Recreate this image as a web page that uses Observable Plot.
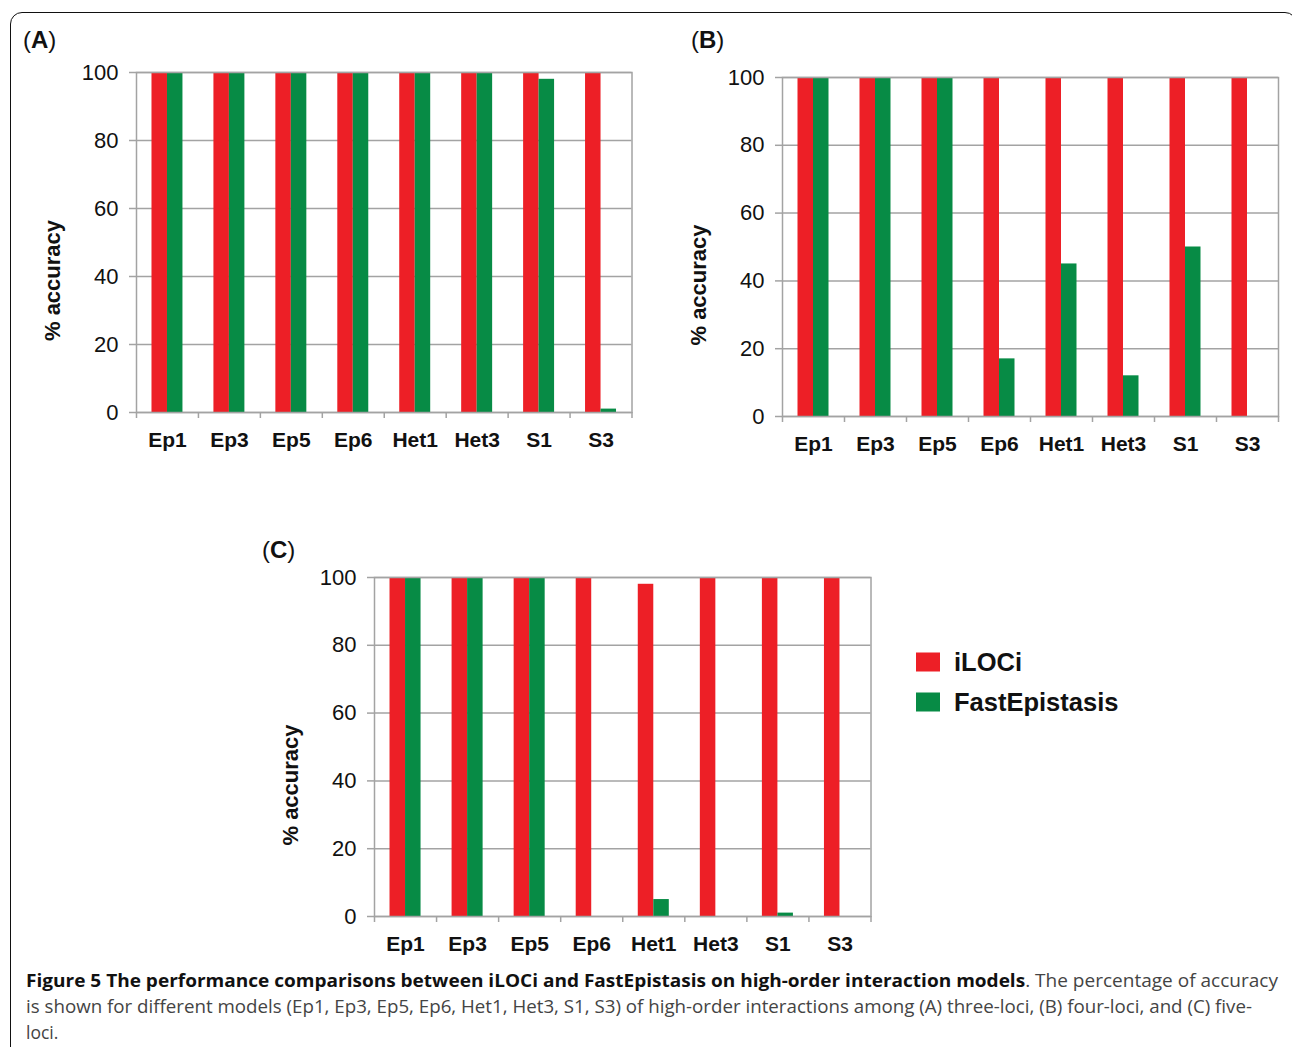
<!DOCTYPE html>
<html>
<head>
<meta charset="utf-8">
<script src="https://cdn.jsdelivr.net/npm/d3@7"></script>
<script src="https://cdn.jsdelivr.net/npm/@observablehq/plot@0.6"></script>
<style>
  html, body { margin: 0; padding: 0; background: #fff; overflow: hidden; }
  #figure { position: relative; width: 1292px; height: 1047px; overflow: hidden; background: #fff; }
  #border { position: absolute; left: 10px; top: 12px; width: 1287px; height: 1100px;
            border: 1.6px solid #111; border-radius: 12px; box-sizing: border-box; }
  .panel { position: absolute; }
  .panel svg g[aria-label="x-axis tick label"] text { font-weight: bold; }
  #overlay { position: absolute; left: 0; top: 0; }
</style>
</head>
<body>
<div id="figure"><div id="border"></div></div>
<script>
// Interaction models on the category axis
const models = ["Ep1", "Ep3", "Ep5", "Ep6", "Het1", "Het3", "S1", "S3"];
const seriesNames = ["iLOCi", "FastEpistasis"];
const seriesColors = ["#ED1F26", "#078B45"];
const yTicks = [0, 20, 40, 60, 80, 100];

// (A) three-loci, % accuracy
const iLOCiThreeLoci = [100, 100, 100, 100, 100, 100, 100, 100];
const fastEpistasisThreeLoci = [100, 100, 100, 100, 100, 100, 98, 1];

// (B) four-loci, % accuracy
const iLOCiFourLoci = [100, 100, 100, 100, 100, 100, 100, 100];
const fastEpistasisFourLoci = [100, 100, 100, 17, 45, 12, 50, 0];

// (C) five-loci, % accuracy
const iLOCiFiveLoci = [100, 100, 100, 100, 98, 100, 100, 100];
const fastEpistasisFiveLoci = [100, 100, 100, 0, 5, 0, 1, 0];

const axisGray = "#a3a3a3";
const chartFont = "'Liberation Sans', Arial, Helvetica, sans-serif";
const margin = {left: 110, right: 14, top: 12, bottom: 60};

const panels = [
  {letter: "A", iLOCi: iLOCiThreeLoci, fast: fastEpistasisThreeLoci,
   frame: {left: 135.5, top: 72, width: 495.5, height: 340}, tag: {x: 23, y: 48}},
  {letter: "B", iLOCi: iLOCiFourLoci, fast: fastEpistasisFourLoci,
   frame: {left: 782, top: 76.5, width: 496, height: 339}, tag: {x: 691, y: 48}},
  {letter: "C", iLOCi: iLOCiFiveLoci, fast: fastEpistasisFiveLoci,
   frame: {left: 373.5, top: 577, width: 496.5, height: 339}, tag: {x: 262, y: 558}}
];

const figure = document.getElementById("figure");

function drawPanel(p) {
  const rows = models.map((m, i) => ({model: m, iLOCi: p.iLOCi[i], fast: p.fast[i]}));
  const step = p.frame.width / models.length;
  const chart = Plot.plot({
    width: margin.left + p.frame.width + margin.right,
    height: margin.top + p.frame.height + margin.bottom,
    marginLeft: margin.left,
    marginRight: margin.right,
    marginTop: margin.top,
    marginBottom: margin.bottom,
    style: {fontFamily: chartFont, background: "transparent", color: "#111", overflow: "visible"},
    x: {domain: models, padding: 0, paddingInner: 0, paddingOuter: 0, round: false, axis: null},
    y: {domain: [0, 100], axis: null},
    marks: [
      Plot.gridY(yTicks, {stroke: axisGray, strokeOpacity: 1, strokeWidth: 1.5}),
      Plot.barY(rows, {x: "model", y: "iLOCi", fill: seriesColors[0],
                       insetLeft: step / 4, insetRight: step / 2}),
      Plot.barY(rows, {x: "model", y: "fast", fill: seriesColors[1],
                       insetLeft: step / 2, insetRight: step / 4}),
      Plot.frame({stroke: axisGray, strokeWidth: 1.5}),
      // y tick marks and labels
      Plot.axisY(yTicks, {tickSize: 7, tickFormat: () => "", label: null, stroke: axisGray, strokeWidth: 1.5}),
      Plot.axisY(yTicks, {tickSize: 0, tickPadding: 18, label: null, fontSize: 22, fill: "#111"}),
      // tick marks between categories
      Plot.ruleX(models, {x: d => d, dx: -step / 2, y1: 0, y2: 0, insetBottom: -6,
                          stroke: axisGray, strokeWidth: 1.5}),
      Plot.ruleX(models.slice(-1), {x: d => d, dx: step / 2, y1: 0, y2: 0, insetBottom: -6,
                                    stroke: axisGray, strokeWidth: 1.5}),
      Plot.axisX({tickSize: 0, tickPadding: 20, label: null, fontSize: 21, fontWeight: "bold", fill: "#111"}),
      Plot.text(["% accuracy"], {frameAnchor: "left", textAnchor: "middle", dx: -84, dy: 38, rotate: -90,
                                 fontSize: 22, fontWeight: "bold", fill: "#111"})
    ]
  });
  const holder = document.createElement("div");
  holder.className = "panel";
  holder.style.left = (p.frame.left - margin.left) + "px";
  holder.style.top = (p.frame.top - margin.top) + "px";
  holder.appendChild(chart);
  figure.appendChild(holder);
}

panels.forEach(drawPanel);

// Panel tags, legend and figure caption
const overlay = d3.select(figure).append("svg")
  .attr("id", "overlay")
  .attr("width", 1292)
  .attr("height", 1047);

panels.forEach(p => {
  const t = overlay.append("text")
    .attr("x", p.tag.x).attr("y", p.tag.y)
    .attr("font-family", chartFont).attr("font-size", 24).attr("fill", "#111");
  t.append("tspan").text("(");
  t.append("tspan").attr("font-weight", "bold").text(p.letter);
  t.append("tspan").text(")");
});

const legend = overlay.append("g").attr("font-family", chartFont);
seriesNames.forEach((name, i) => {
  const yTop = 652.5 + i * 40;
  legend.append("rect").attr("x", 916).attr("y", yTop).attr("width", 24).attr("height", 19)
    .attr("fill", seriesColors[i]);
  legend.append("text").attr("x", 954).attr("y", yTop + 18.5)
    .attr("font-size", 25.5).attr("font-weight", "bold").attr("fill", "#111").text(name);
});

const captionLines = [
  {y: 987, width: 1252, parts: [
    {bold: true, text: "Figure 5 The performance comparisons between iLOCi and FastEpistasis on high-order interaction models"},
    {bold: false, text: ". The percentage of accuracy"}]},
  {y: 1013, width: 1226, parts: [
    {bold: false, text: "is shown for different models (Ep1, Ep3, Ep5, Ep6, Het1, Het3, S1, S3) of high-order interactions among (A) three-loci, (B) four-loci, and (C) five-"}]},
  {y: 1039, width: null, parts: [{bold: false, text: "loci."}]}
];
captionLines.forEach(line => {
  const t = overlay.append("text")
    .attr("x", 26).attr("y", line.y)
    .attr("font-family", "'Open Sans', 'Noto Sans', sans-serif")
    .attr("font-size", 17.5);
  if (line.width) t.attr("textLength", line.width).attr("lengthAdjust", "spacingAndGlyphs");
  line.parts.forEach(part => {
    t.append("tspan")
      .attr("font-weight", part.bold ? "bold" : "normal")
      .attr("fill", part.bold ? "#111" : "#444")
      .text(part.text);
  });
});
</script>
</body>
</html>
